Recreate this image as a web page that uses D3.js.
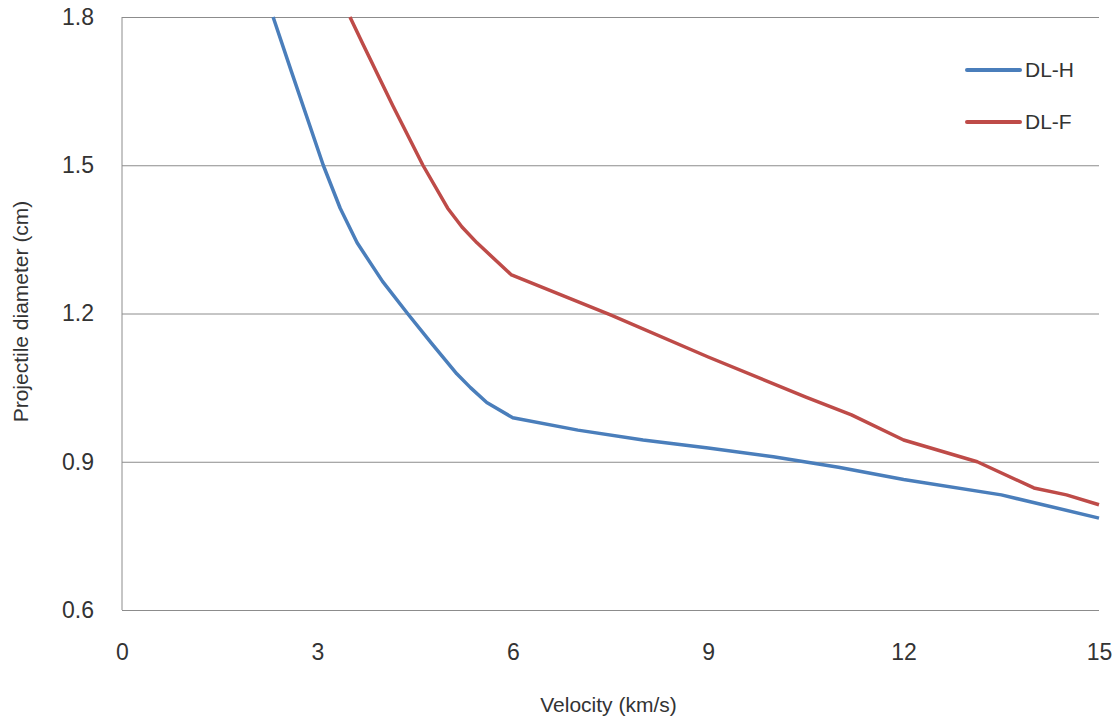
<!DOCTYPE html>
<html>
<head>
<meta charset="utf-8">
<script src="https://cdn.jsdelivr.net/npm/d3@7"></script>
<style>
  body { margin: 0; background: #fff; }
  text { font-family: "Liberation Sans", Arial, sans-serif; fill: #333; }
</style>
</head>
<body>
<div id="chart"></div>
<script>
// velocity (km/s) and projectile diameter (cm)
const dlH_v = [2.32, 2.60, 3.09, 3.35, 3.61, 4.00, 4.39, 4.75, 5.14, 5.35, 5.60, 6.0, 7.0, 8.0, 9.0, 10.0, 11.0, 12.0, 13.5, 15.0];
const dlH_d = [1.80, 1.69, 1.50, 1.413, 1.343, 1.265, 1.199, 1.140, 1.078, 1.050, 1.020, 0.989, 0.964, 0.944, 0.928, 0.910, 0.889, 0.864, 0.833, 0.786];

const dlF_v = [3.50, 3.70, 4.16, 4.62, 5.00, 5.22, 5.45, 5.98, 7.5, 9.0, 10.5, 11.2, 12.0, 13.13, 14.0, 14.5, 15.0];
const dlF_d = [1.80, 1.745, 1.620, 1.50, 1.413, 1.375, 1.343, 1.278, 1.197, 1.112, 1.031, 0.995, 0.944, 0.90, 0.847, 0.833, 0.813];

const xTicks = [0, 3, 6, 9, 12, 15];
const yTicks = [0.6, 0.9, 1.2, 1.5, 1.8];

const series = [
  { name: "DL-H", color: "#4A7EBB", v: dlH_v, d: dlH_d },
  { name: "DL-F", color: "#BE4B48", v: dlF_v, d: dlF_d }
];

const W = 1117, H = 723;
const margin = { top: 17, right: 18, bottom: 113, left: 122 };
const width = W - margin.left - margin.right,
      height = H - margin.top - margin.bottom;

const svg = d3.select("#chart").append("svg")
  .attr("width", W).attr("height", H);
const g = svg.append("g").attr("transform", `translate(${margin.left},${margin.top})`);

const x = d3.scaleLinear().domain([0, 15]).range([0, width]);
const y = d3.scaleLinear().domain([0.6, 1.8]).range([height, 0]);

// gridlines
g.append("g")
  .call(d3.axisLeft(y).tickValues(yTicks).tickSize(-width).tickFormat(""))
  .call(s => s.select(".domain").remove())
  .selectAll("line").attr("stroke", "#8c8c8c").attr("stroke-width", 1);

// left axis line
g.append("line").attr("x1", 0).attr("x2", 0).attr("y1", 0).attr("y2", height)
  .attr("stroke", "#8c8c8c");

// y tick labels
g.append("g")
  .call(d3.axisLeft(y).tickValues(yTicks).tickSize(0).tickPadding(28).tickFormat(d3.format(".1f")))
  .call(s => s.select(".domain").remove())
  .selectAll("text").style("font-size", "23px").attr("fill", "#333");

// x tick labels
g.append("g")
  .attr("transform", `translate(0,${height})`)
  .call(d3.axisBottom(x).tickValues(xTicks).tickSize(0).tickPadding(34).tickFormat(d3.format("d")))
  .call(s => s.select(".domain").remove())
  .selectAll("text").style("font-size", "23px").attr("fill", "#333");

// lines
const line = d3.line().x(p => x(p[0])).y(p => y(p[1]));
series.forEach(s => {
  g.append("path")
    .datum(d3.zip(s.v, s.d))
    .attr("fill", "none")
    .attr("stroke", s.color)
    .attr("stroke-width", 3.5)
    .attr("stroke-linejoin", "round")
    .attr("d", line);
});

// legend
const legend = svg.append("g").attr("transform", "translate(967,70)");
series.forEach((s, i) => {
  const row = legend.append("g").attr("transform", `translate(0,${i * 52})`);
  row.append("line").attr("x1", 0).attr("x2", 53).attr("y1", 0).attr("y2", 0)
    .attr("stroke", s.color).attr("stroke-width", 4).attr("stroke-linecap", "round");
  row.append("text").attr("x", 58).attr("y", 0).attr("dy", "0.35em")
    .style("font-size", "21px").text(s.name);
});

// axis titles
svg.append("text")
  .attr("x", margin.left + width / 2 - 2).attr("y", 712)
  .attr("text-anchor", "middle").style("font-size", "21px")
  .text("Velocity (km/s)");

svg.append("text")
  .attr("transform", `translate(28,${margin.top + height / 2 - 2}) rotate(-90)`)
  .attr("text-anchor", "middle").style("font-size", "21px")
  .text("Projectile diameter (cm)");
</script>
</body>
</html>
